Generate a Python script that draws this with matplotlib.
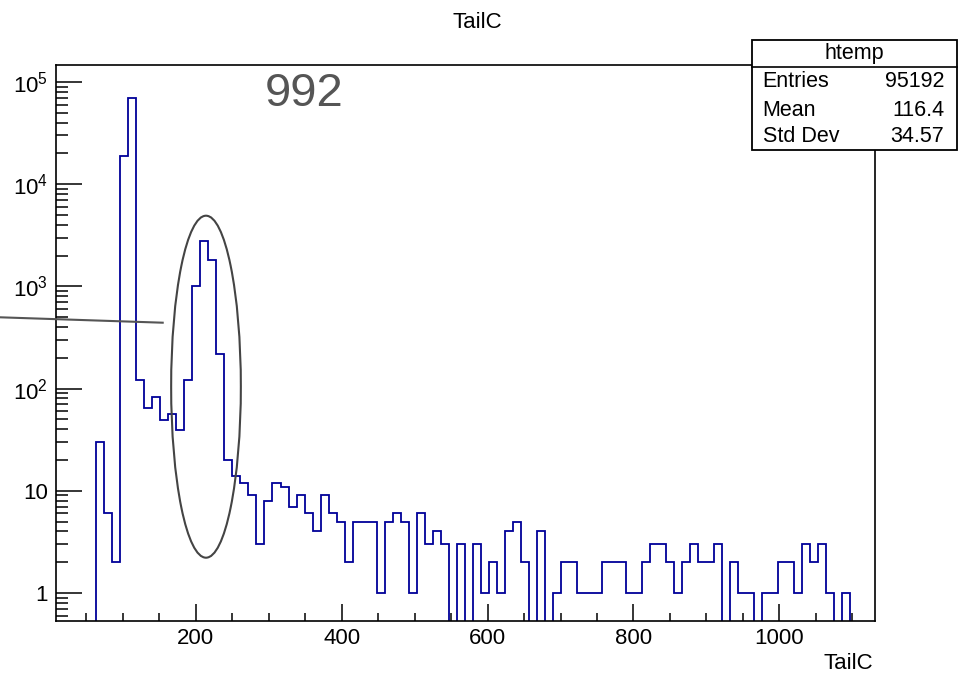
import numpy as np
import matplotlib
matplotlib.use("Agg")
import matplotlib.pyplot as plt
from matplotlib.patches import Ellipse, Rectangle
from matplotlib.lines import Line2D
from matplotlib.ticker import FixedLocator, MultipleLocator

plt.rcParams['font.family'] = 'Liberation Sans'
plt.rcParams['mathtext.fontset'] = 'custom'
plt.rcParams['mathtext.rm'] = 'Liberation Sans'

# histogram data
bin_lo = 63.2
bin_w = 11.0
counts = [30, 6, 2, 19000, 70000, 120, 64, 83, 49, 56,
          39, 121, 1000, 2800, 1800, 220, 20, 14, 12, 9,
          3, 8, 12, 11, 7, 9, 6, 4, 9, 6,
          5, 2, 5, 5, 5, 1, 5, 6, 5, 1,
          6, 3, 4, 3, 0, 3, 0, 3, 1, 2,
          1, 4, 5, 2, 0, 4, 0, 1, 2, 2,
          1, 1, 1, 2, 2, 2, 1, 1, 2, 3,
          3, 2, 1, 2, 3, 2, 2, 3, 0, 2,
          1, 1, 0, 1, 1, 2, 2, 1, 3, 2,
          3, 1, 0, 1]
x_range = (8.5, 1131.0)
y_range = (0.532, 1.466e5)
x_major = [200, 400, 600, 800, 1000]
y_major = [1, 10, 100, 1000, 10000, 100000]
y_labels = ['1', '10', r'$\mathregular{10^{2}}$', r'$\mathregular{10^{3}}$',
            r'$\mathregular{10^{4}}$', r'$\mathregular{10^{5}}$']
stats_names = ['Entries', 'Mean', 'Std Dev']
stats_values = ['95192', '116.4', '34.57']

W, H = 961, 675
fig = plt.figure(figsize=(W / 100, H / 100), dpi=100)
ax = fig.add_axes([56 / W, 1 - 621 / H, (875 - 56) / W, (621 - 65) / H])

edges = bin_lo + bin_w * np.arange(len(counts) + 1)
ax.set_yscale('log', nonpositive='clip')
ax.stairs(counts, edges, baseline=0, color='#000099', lw=1.3)

ax.set_xlim(*x_range)
ax.set_ylim(*y_range)

ax.xaxis.set_major_locator(FixedLocator(x_major))
ax.xaxis.set_minor_locator(MultipleLocator(50))
ax.yaxis.set_major_locator(FixedLocator(y_major))
minor_y = (10.0 ** np.arange(-1, 6)[:, None] * np.arange(2, 10)[None, :]).ravel()
ax.yaxis.set_minor_locator(FixedLocator(minor_y))
ax.set_yticklabels(y_labels)
ax.yaxis.set_minor_formatter(plt.NullFormatter())

ax.tick_params(axis='both', which='both', direction='in', top=False, right=False,
               labelsize=16, width=1.1, color='black')
ax.tick_params(axis='x', which='major', length=12.5, pad=5)
ax.tick_params(axis='x', which='minor', length=6)
ax.tick_params(axis='y', which='major', length=18.5, pad=6)
ax.tick_params(axis='y', which='minor', length=8.5)
for s in ax.spines.values():
    s.set_linewidth(1.2)

# titles
fig.text(477 / W, 1 - 28 / H, 'TailC', ha='center', va='baseline', fontsize=16)
fig.text(873 / W, 1 - 669 / H, 'TailC', ha='right', va='baseline', fontsize=16)
fig.text(304 / W, 1 - 106 / H, '992', ha='center', va='baseline', fontsize=34,
         color='#555555')

# annotation ellipse and line
fig.add_artist(Ellipse((206 / W, 1 - 386.7 / H), 69.7 / W, 342 / H,
                       transform=fig.transFigure, fill=False,
                       edgecolor='#444444', lw=1.5))
fig.add_artist(Line2D([0, 162.7 / W], [1 - 317.3 / H, 1 - 322.7 / H],
                      transform=fig.transFigure, color='#555555', lw=1.5))

# stats box
bx0, bx1, by0, by1, hdr = 751.7, 957, 40, 150, 67.3
fig.add_artist(Rectangle((bx0 / W, 1 - by1 / H), (bx1 - bx0) / W, (by1 - by0) / H,
                         transform=fig.transFigure, facecolor='white',
                         edgecolor='black', lw=1.3, zorder=5))
fig.add_artist(Line2D([bx0 / W, bx1 / W], [1 - hdr / H, 1 - hdr / H],
                      transform=fig.transFigure, color='black', lw=1.2, zorder=6))
fig.text((bx0 + bx1) / 2 / W, 1 - 53.3 / H, 'htemp', ha='center', va='center',
         fontsize=15.5, zorder=7)
row_y = [81.7, 110, 136.7]
for name, val, yy in zip(stats_names, stats_values, row_y):
    fig.text(762.7 / W, 1 - yy / H, name, ha='left', va='center', fontsize=15.5, zorder=7)
    fig.text(944 / W, 1 - yy / H, val, ha='right', va='center', fontsize=15.5, zorder=7)

fig.savefig('out.png', dpi=100)
